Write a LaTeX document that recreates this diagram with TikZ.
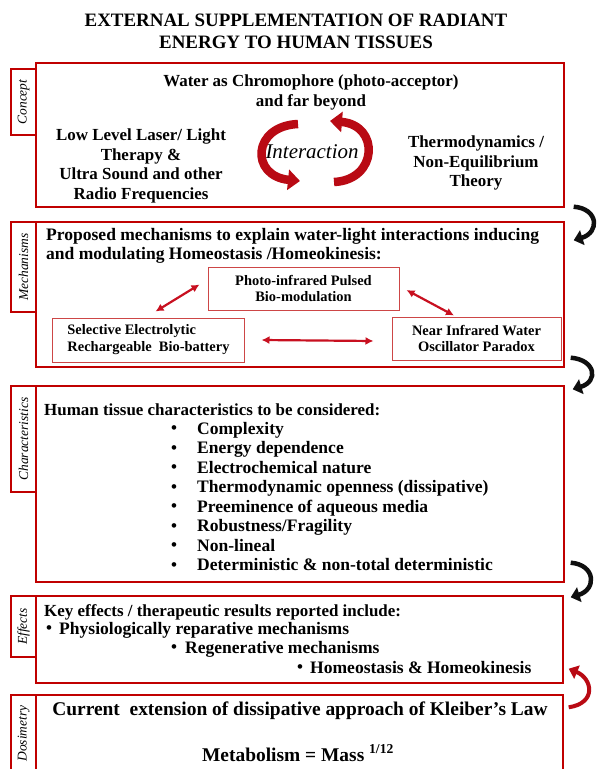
\documentclass[tikz,border=0pt]{standalone}
\usepackage{fontspec}
\setmainfont{Liberation Serif}
\usetikzlibrary{positioning,calc,arrows.meta}
\definecolor{panelred}{RGB}{192,0,0}
\definecolor{boxpink}{RGB}{205,70,70}
\definecolor{arrowred}{RGB}{200,16,32}
\definecolor{ribbonred}{RGB}{185,10,20}
\definecolor{inkblack}{RGB}{15,15,15}
\newcommand{\pxsize}[2]{\fontsize{#1}{#2}\selectfont}

\begin{document}
\begin{tikzpicture}[
  x=1bp, y=1bp,
  panel/.style={draw=panelred, line width=1.4bp, inner sep=0pt},
  tab/.style={draw=panelred, line width=1.4bp, rotate=90, minimum height=25bp,
              inner sep=0pt, font=\pxsize{13.5}{14}\itshape},
  mbox/.style={draw=boxpink, line width=1bp, align=center, inner sep=0pt,
               font=\pxsize{14.5}{17}\bfseries},
  heading/.style={anchor=west, inner sep=0pt, text height=12bp, text depth=4bp,
                  font=\pxsize{17}{19}\bfseries},
  body/.style={inner sep=0pt, align=center, font=\pxsize{17}{19.5}\bfseries},
  listitem/.style={anchor=west, inner sep=0pt, text height=12bp, text depth=4bp,
                   font=\pxsize{17.6}{19}\bfseries},
  bul/.style={inner sep=0pt, font=\pxsize{17}{18}\bfseries},
  duoarr/.style={{Latex[length=8bp,width=8bp]}-{Latex[length=8bp,width=8bp]},
                 line width=2.2bp, arrowred},
  turnarr/.style={-{Triangle[length=9bp,width=15bp]}, line width=4.5bp, inkblack},
  redturn/.style={-{Triangle[length=9bp,width=14bp]}, line width=4bp, ribbonred},
  ribbon/.style={-{Triangle[length=12bp,width=20bp]}, line width=8.5bp, ribbonred},
]

% page
\fill[white] (0,0) rectangle (598,-769);
\useasboundingbox (0,0) rectangle (598,-769);

% title
\node[font=\pxsize{19}{22}\bfseries, align=center] (title) at (296,-31)
  {EXTERNAL SUPPLEMENTATION OF RADIANT\\ENERGY TO HUMAN TISSUES};

% panels
\node[panel, minimum width=528bp, minimum height=144bp] (concept) at (300,-135) {};
\node[panel, minimum width=528bp, minimum height=145bp] (mech)    at (300,-294.5) {};
\node[panel, minimum width=528bp, minimum height=196bp] (chars)   at (300,-484) {};
\node[panel, minimum width=527bp, minimum height=87bp]  (effects) at (299.5,-639.5) {};
\node[panel, minimum width=527bp, minimum height=77bp]  (dose)    at (299.5,-733.5) {};

% side tabs
\node[tab, minimum width=66bp]  (tabconcept) at (23.5,-102)   {Concept};
\node[tab, minimum width=90bp]  (tabmech)    at (23.5,-267)   {Mechanisms};
\node[tab, minimum width=106bp] (tabchars)   at (23.5,-439)   {Characteristics};
\node[tab, minimum width=61bp]  (tabeffects) at (23.5,-626.5) {Effects};
\node[tab, minimum width=77bp]  (tabdose)    at (23.5,-733.5) {Dosimetry};

% concept
\node[body, font=\pxsize{17}{20.5}\bfseries] (water) at (311,-92.5)
  {Water as Chromophore (photo-acceptor)\\and far beyond};
\node[body] (lllt) at (141,-166)
  {Low Level Laser/ Light\\Therapy \&\\Ultra Sound and other\\Radio Frequencies};
\node[body] (thermo) at (476,-163) {Thermodynamics /\\Non-Equilibrium\\Theory};
\node[inner sep=0pt, font=\pxsize{21}{24}\itshape] (inter) at (312,-152) {Interaction};

\coordinate (lefttail)  at (298,-124);
\coordinate (lefttip)   at (300,-181);
\coordinate (righttail) at (334,-182);
\coordinate (righttip)  at (330,-121);
\draw[ribbon] (lefttail) .. controls (252,-126) and (250,-176) .. (lefttip);
\draw[ribbon] (righttail) .. controls (378,-180) and (380,-125) .. (righttip);

% mechanisms
\node[inner sep=0pt, anchor=west, align=left, font=\pxsize{17.6}{19}\bfseries] (mechtitle) at (46,-246)
  {Proposed mechanisms to explain water-light interactions inducing\\and modulating Homeostasis /Homeokinesis:};
\node[mbox, minimum width=191bp, minimum height=43bp] (photo) at (303.5,-288.5)
  {Photo-infrared Pulsed\\Bio-modulation};
\node[mbox, minimum width=191bp, minimum height=44bp, align=left] (sel) at (148.5,-340)
  {Selective Electrolytic\\Rechargeable\ \ Bio-battery};
\node[mbox, minimum width=169bp, minimum height=43bp] (near) at (476.5,-338.5)
  {Near Infrared Water\\Oscillator Paradox};

\draw[duoarr] ([xshift=7bp,yshift=6bp]sel.north) -- ([xshift=-8bp,yshift=4bp]photo.west);
\draw[duoarr] ([xshift=7bp,yshift=-1.5bp]photo.east) -- ([xshift=-22.5bp,yshift=1bp]near.north);
\draw[duoarr] ([xshift=17bp]sel.east) -- ([xshift=-18bp,yshift=-2.5bp]near.west);

% characteristics
\node[heading] (charstitle) at (44,-411) {Human tissue characteristics to be considered:};
\foreach \txt [count=\i] in {Complexity, Energy dependence, Electrochemical nature,
    Thermodynamic openness (dissipative), Preeminence of aqueous media,
    Robustness/Fragility, Non-lineal, Deterministic \& non-total deterministic} {
  \node[bul] (cbul\i) at (174,{-430-19.5*(\i-1)}) {\textbullet};
  \node[listitem] (citem\i) at (197,{-430-19.5*(\i-1)}) {\txt};
}

% effects
\node[heading] (efftitle) at (44,-612) {Key effects / therapeutic results reported include:};
\node[bul] (ebul1) at (49,-630) {\textbullet};
\node[listitem] (eitem1) at (59,-630) {Physiologically reparative mechanisms};
\node[bul] (ebul2) at (174,-649) {\textbullet};
\node[listitem] (eitem2) at (185,-649) {Regenerative mechanisms};
\node[bul] (ebul3) at (300,-669) {\textbullet};
\node[listitem] (eitem3) at (310,-669) {Homeostasis \& Homeokinesis};

% dosimetry
\node[body, font=\pxsize{19.5}{22}\bfseries] (dosetitle) at (300,-711)
  {Current\ \ extension of dissipative approach of Kleiber's Law};
\node[body, font=\pxsize{19.5}{22}\bfseries] (metab) at (298,-753)
  {Metabolism = Mass \textsuperscript{1/12}};

% turning arrows on the right
\draw[turnarr] ([xshift=9bp,yshift=1bp]concept.south east)
  .. controls +(25,-2) and +(26,8) .. ([xshift=9bp,yshift=-19bp]mech.north east);
\draw[turnarr] ([xshift=6bp,yshift=10bp]mech.south east)
  .. controls +(25,-2) and +(26,8) .. ([xshift=8bp,yshift=-4bp]chars.north east);
\draw[turnarr] ([xshift=6bp,yshift=20bp]chars.south east)
  .. controls +(25,-2) and +(26,8) .. ([xshift=7bp,yshift=-2bp]effects.north east);
\draw[redturn] ([xshift=5bp,yshift=-13bp]dose.north east)
  .. controls +(28,4) and +(24,-10) .. ([xshift=5bp,yshift=15bp]effects.south east);

\end{tikzpicture}
\end{document}
